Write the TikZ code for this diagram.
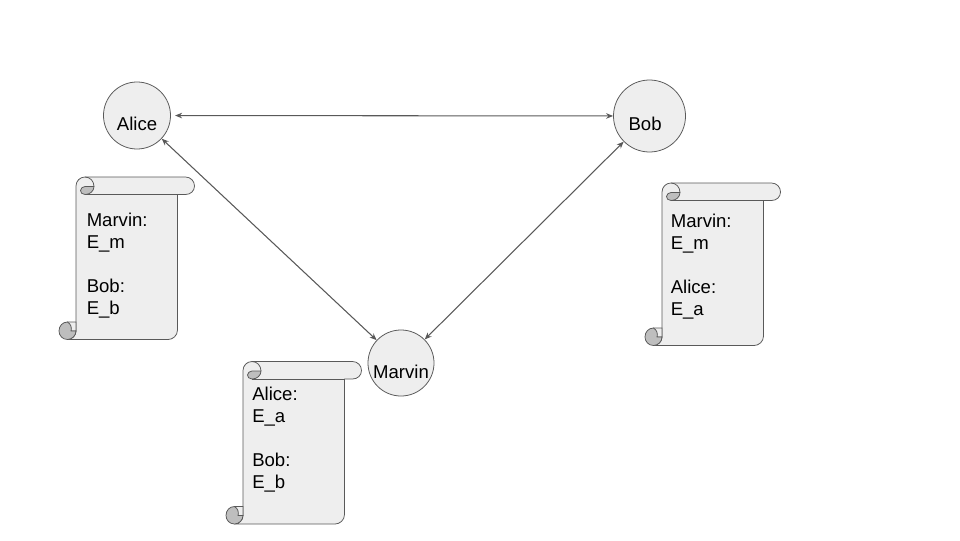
\documentclass[tikz,border=0pt]{standalone}
\usepackage{fontspec}
\usetikzlibrary{arrows.meta}
\setmainfont{Liberation Sans}
\definecolor{linegray}{HTML}{595959}
\definecolor{bodygray}{HTML}{EEEEEE}
\definecolor{curlgray}{HTML}{BEBEBE}
\tikzset{
	person/.style={draw=linegray, fill=bodygray, circle, inner sep=0pt, line width=0.55pt, text=black, font=\fontsize{13.2}{16}\selectfont},
	link/.style={draw=linegray, line width=0.75pt, {Stealth[length=5pt,width=4pt]}-{Stealth[length=5pt,width=4pt]}},
	notetext/.style={anchor=west, align=left, inner sep=0pt, text=black, font=\fontsize{13.2}{15.65}\selectfont},
	scrollnote/.pic={
		\draw[draw=linegray, fill=bodygray, line width=0.55pt, line join=round]
			(0,9) .. controls (0,4) and (4,0) .. (9,0) -- (109.5,0)
			.. controls (114.5,0) and (118.5,4) .. (118.5,9)
			.. controls (118.5,14) and (114.5,17.5) .. (109.5,17.5) -- (101.5,17.5) -- (101.5,153)
			.. controls (101.5,158.5) and (97,162.5) .. (92,162.5) -- (-8.5,162.5)
			.. controls (-4,162.5) and (0,158.5) .. (0,154) -- cycle;
		\draw[draw=linegray, fill=bodygray, line width=0.55pt] (-8.5,145) -- (0,145) -- (0,154) -- (-5,154) -- cycle;
		\draw[draw=linegray, fill=curlgray, line width=0.55pt, line join=round]
			(-8.5,145) .. controls (-13.5,145) and (-17,149) .. (-17,154)
			.. controls (-17,158.5) and (-13.5,162.5) .. (-8.5,162.5)
			.. controls (-4,162.5) and (0,158.5) .. (0,154) -- (-5,154)
			.. controls (-4,151) and (-5,147) .. (-8.5,145) -- cycle;
		\draw[draw=linegray, fill=curlgray, line width=0.55pt, line join=round]
			(18,9.5) .. controls (18,14) and (14,17.5) .. (9,17.5)
			.. controls (6,17.5) and (4.5,15.5) .. (4.5,13.5)
			.. controls (4.5,11.5) and (6.5,9.5) .. (9,9.5) -- cycle;
		\draw[draw=linegray, line width=0.55pt]
			(9,0) .. controls (14,0) and (18,4) .. (18,9.5);
		\draw[draw=linegray, line width=0.55pt] (9,17.5) -- (101.5,17.5);
	}
}
\begin{document}
\begin{tikzpicture}[x=0.025cm, y=-0.025cm]
	\useasboundingbox (0,0) rectangle (960,540);
	\node[person, minimum size=1.675cm, label={[font=\fontsize{13.2}{16}\selectfont, yshift=-0.21cm]center:Alice}] (alice) at (137,115.5) {};
	\node[person, minimum size=1.8cm, label={[font=\fontsize{13.2}{16}\selectfont, xshift=-0.11cm, yshift=-0.2cm]center:Bob}] (bob) at (649.5,116) {};
	\node[person, minimum size=1.65cm, label={[font=\fontsize{13.2}{16}\selectfont, yshift=-0.22cm]center:Marvin}] (marvin) at (401,363) {};
	\draw[link, shorten <=3pt] (alice) -- (bob);
	\draw[link] (alice) -- (marvin);
	\draw[link] (bob) -- (marvin);
	\pic at (76,177) {scrollnote};
	\pic at (662,183) {scrollnote};
	\pic at (243,361.5) {scrollnote};
	\node[notetext] (alicenote) at (86.5,265.5) {Marvin:\\E\_m\\~\\Bob:\\E\_b};
	\node[notetext] (bobnote) at (670.5,266.5) {Marvin:\\E\_m\\~\\Alice:\\E\_a};
	\node[notetext] (marvinnote) at (252,439.5) {Alice:\\E\_a\\~\\Bob:\\E\_b};
\end{tikzpicture}
\end{document}
